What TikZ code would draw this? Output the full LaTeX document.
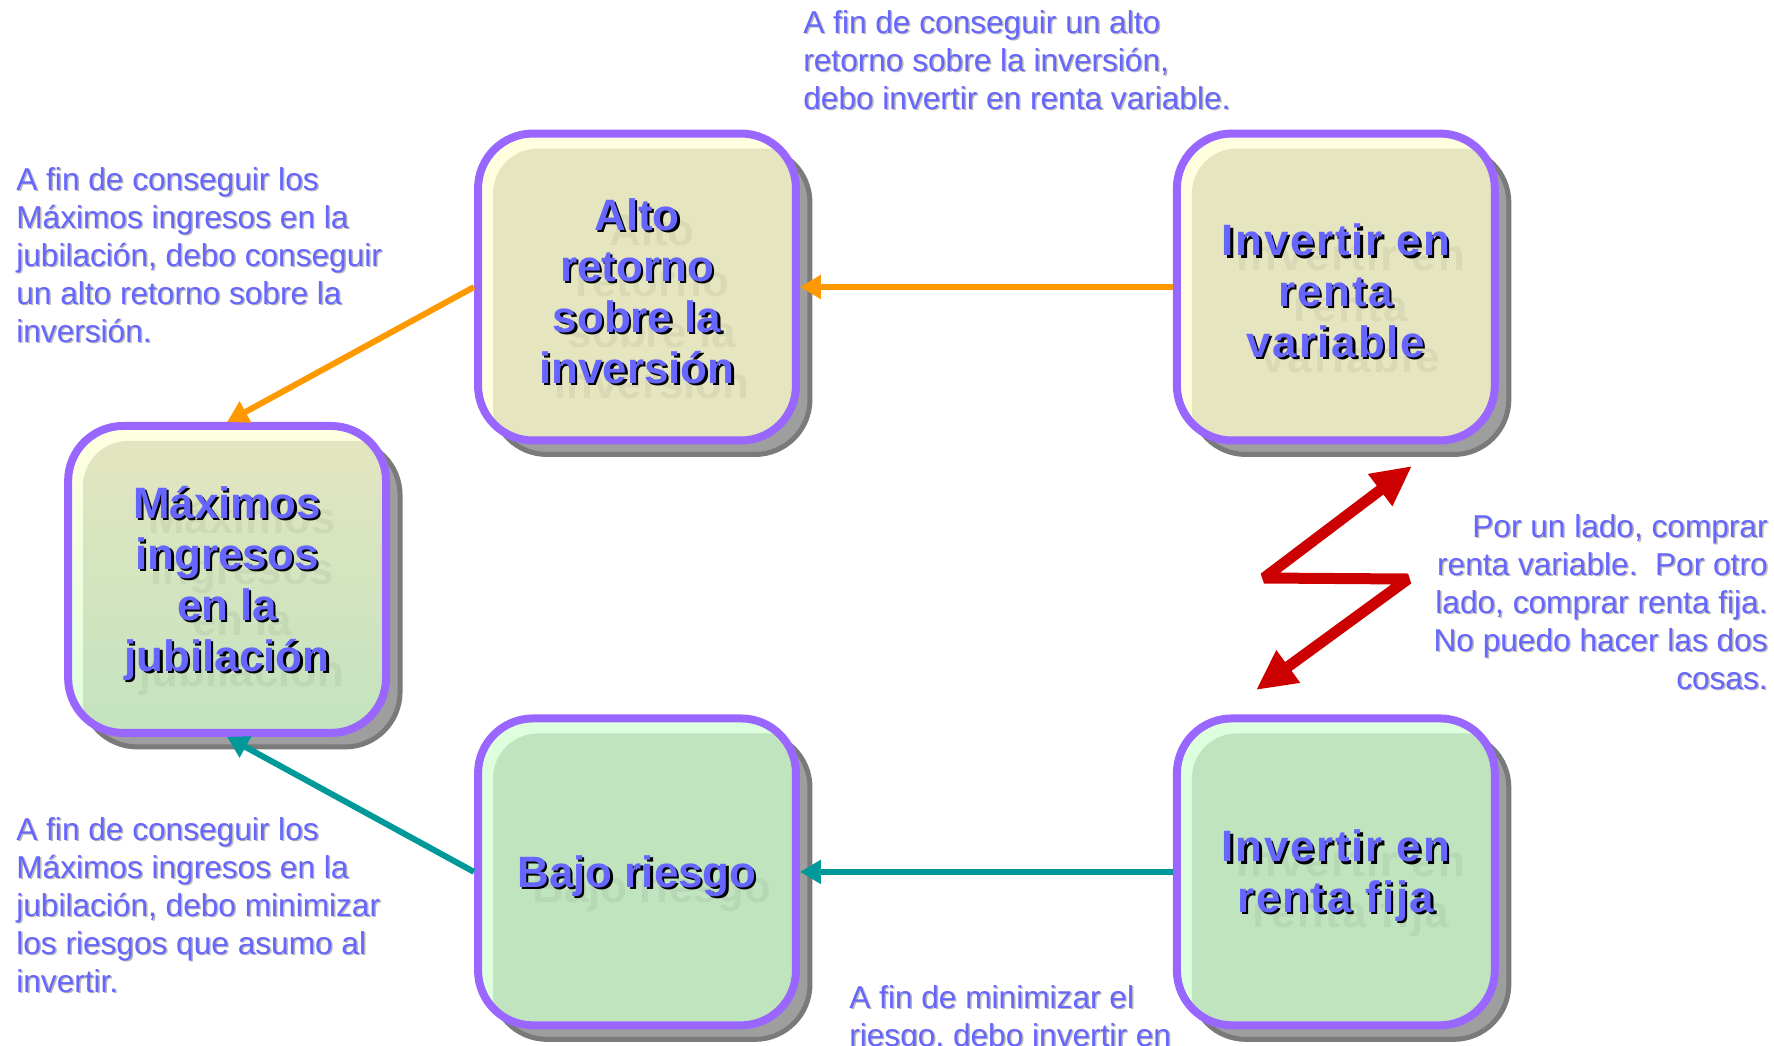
\documentclass[tikz,border=0pt]{standalone}
\usepackage{fontspec}
\setmainfont{Liberation Sans}
\usepackage{tikz}
\usetikzlibrary{shapes,arrows,positioning,calc,shadows}
\usetikzlibrary{arrows.meta}

\definecolor{boxline}{RGB}{153,102,255}
\definecolor{notecolor}{RGB}{102,102,255}
\definecolor{yellowfill}{RGB}{229,229,192}
\definecolor{yellowhi}{RGB}{255,255,224}
\definecolor{greenfill}{RGB}{192,228,190}
\definecolor{greenhi}{RGB}{222,255,222}
\definecolor{orangeline}{RGB}{255,153,0}
\definecolor{tealline}{RGB}{0,153,153}
\definecolor{redline}{RGB}{204,0,0}

\tikzstyle{line} = [draw, line width=0.12cm, -{Triangle[length=0.42cm,width=0.46cm]}]

% caption of a box: faint ghost, black shadow, blue text
\newcommand{\boxcaption}[4][]{%
  \node[boxtext, #1, text=black, opacity=.05] (#2-g) at ([shift={(0.3cm,-0.38cm)}]#3) {#4};
  \node[boxtext, #1, text=black] (#2-s) at ([shift={(0.045cm,-0.125cm)}]#3) {#4};
  \node[boxtext, #1] (#2-t) at ([shift={(0,-0.08cm)}]#3) {#4};}

% side note with a light shadow
\newcommand{\shadenote}[4]{%
  \node[notetext, #2, text=black!28] (#1-s) at ([shift={(0.03cm,-0.03cm)}]#3) {#4};
  \node[notetext, #2] (#1) at (#3) {#4};}

\begin{document}
\begin{tikzpicture}[x=0.02cm, y=-0.02cm]

\tikzset{
    goalbox/.style={draw=boxline, line width=0.16cm, rounded corners=1.1cm,
      minimum width=6.36cm, minimum height=6.14cm,
      drop shadow={shadow xshift=0.28cm, shadow yshift=-0.28cm,
        fill=black!38, draw=black!52, line width=0.1cm, opacity=1}},
    yellowbox/.style={goalbox, fill=yellowhi,
      path picture={\fill[yellowfill, rounded corners=0.9cm]
        ([shift={(0.3cm,-0.3cm)}]path picture bounding box.north west) rectangle
        ([shift={(0.3cm,-0.3cm)}]path picture bounding box.south east);}},
    greenbox/.style={goalbox, fill=greenhi,
      path picture={\fill[greenfill, rounded corners=0.9cm]
        ([shift={(0.3cm,-0.3cm)}]path picture bounding box.north west) rectangle
        ([shift={(0.3cm,-0.3cm)}]path picture bounding box.south east);}},
    mixbox/.style={goalbox, top color=yellowhi, bottom color=greenhi,
      path picture={\shade[top color=yellowfill, bottom color=greenfill, rounded corners=0.9cm]
        ([shift={(0.3cm,-0.3cm)}]path picture bounding box.north west) rectangle
        ([shift={(0.3cm,-0.3cm)}]path picture bounding box.south east);}},
    boxtext/.style={font=\fontsize{25}{29}\selectfont\bfseries, text=notecolor,
      align=center, inner sep=0pt},
    spaced/.style={font=\fontsize{25}{29}\selectfont\bfseries\addfontfeature{LetterSpace=4}},
    notetext/.style={font=\fontsize{18}{21.6}\selectfont, text=notecolor,
      align=left, inner sep=0pt},
}

  \useasboundingbox (0,0) rectangle (1774,1045);

  \node [yellowbox] (alto) at (637,287) {};
  \node [yellowbox, right=7.46cm of alto] (variable) {};
  \node [greenbox, below=5.4cm of alto] (bajo) {};
  \node [greenbox, right=7.46cm of bajo] (fija) {};
  \node [mixbox, anchor=east, xshift=-1.68cm] (maximos) at ($(alto.west)!0.5!(bajo.west)$) {};

  \boxcaption{alto}{alto}{Alto\\retorno\\sobre la\\inversión}
  \boxcaption[spaced]{variable}{variable}{Invertir en\\renta\\variable}
  \boxcaption{maximos}{maximos}{Máximos\\ingresos\\en la\\jubilación}
  \boxcaption{bajo}{bajo}{Bajo riesgo}
  \boxcaption[spaced]{fija}{fija}{Invertir en\\renta fija}

  \path [line, orangeline] (variable) -- (alto);
  \path [line, orangeline] (alto.west) -- (maximos.north);
  \path [line, tealline] (fija) -- (bajo);
  \path [line, tealline] (bajo.west) -- (maximos.south);

  % conflict between the two investments
  \coordinate (zigtop) at (1412,466);
  \coordinate (zigl) at (1264,578);
  \coordinate (zigr) at (1408,579);
  \coordinate (zigbot) at (1256,690);
  \draw [redline, line width=0.22cm, line join=bevel,
    {Triangle[length=0.8cm,width=0.75cm]}-{Triangle[length=0.8cm,width=0.75cm]}]
    (zigbot) -- (zigr) -- (zigl) -- (zigtop);

  \shadenote{topnote}{anchor=north west}{803,10}{A fin de conseguir un alto\\retorno sobre la inversión,\\debo invertir en renta variable.}
  \shadenote{leftnote}{anchor=north west}{16,167}{A fin de conseguir los\\Máximos ingresos en la\\jubilación, debo conseguir\\un alto retorno sobre la\\inversión.}
  \shadenote{risknote}{anchor=north west}{16,817}{A fin de conseguir los\\Máximos ingresos en la\\jubilación, debo minimizar\\los riesgos que asumo al\\invertir.}
  \shadenote{bottomnote}{anchor=north west}{849,985}{A fin de minimizar el\\riesgo, debo invertir en}
  \shadenote{conflictnote}{anchor=north east, align=right}{1768,514}{Por un lado, comprar\\renta variable.~~Por otro\\lado, comprar renta fija.\\No puedo hacer las dos\\cosas.}

\end{tikzpicture}
\end{document}
